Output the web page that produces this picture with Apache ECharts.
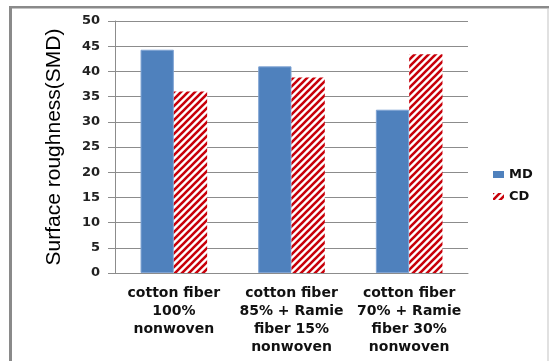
<!DOCTYPE html>
<html>
<head>
<meta charset="utf-8">
<style>
  html, body { margin: 0; padding: 0; background: #fff; }
  #chart { width: 549px; height: 361px; }
</style>
<script src="https://cdn.jsdelivr.net/npm/echarts@6/dist/echarts.min.js"></script>
</head>
<body>
<div id="chart"></div>
<script>
// Fabric samples and measured surface roughness (SMD) in two directions
const categories = [
  'cotton fiber\n100%\nnonwoven',
  'cotton fiber\n85% + Ramie\nfiber 15%\nnonwoven',
  'cotton fiber\n70% + Ramie\nfiber 30%\nnonwoven'
];
const mdValues = [44.3, 41.0, 32.4];
const cdValues = [36.0, 38.8, 43.4];
const yTicks = { min: 0, max: 50, interval: 5 };

// Diagonal red hatch used for the CD series
function hatchPattern() {
  const p = 7;
  const c = document.createElement('canvas');
  c.width = p; c.height = p;
  const g = c.getContext('2d');
  g.fillStyle = '#ffffff';
  g.fillRect(0, 0, p, p);
  g.strokeStyle = '#c8000a';
  g.lineWidth = 2.6;
  g.beginPath();
  g.moveTo(-1, p + 1); g.lineTo(p + 1, -1);
  g.moveTo(-1, 1); g.lineTo(1, -1);
  g.moveTo(p - 1, p + 1); g.lineTo(p + 1, p - 1);
  g.stroke();
  return c;
}
const hatch = { image: hatchPattern(), repeat: 'repeat' };

const chart = echarts.init(document.getElementById('chart'), null, { renderer: 'canvas' });
chart.setOption({
  backgroundColor: '#ffffff',
  animation: false,
  graphic: [
    { type: 'rect', shape: { x: 9, y: 6, width: 3, height: 360 }, style: { fill: '#8a8a8a' } },
    { type: 'rect', shape: { x: 9, y: 6, width: 540, height: 2.5 }, style: { fill: '#8a8a8a' } },
    { type: 'rect', shape: { x: 547.5, y: 8, width: 1, height: 353 }, style: { fill: '#c4c4c4' } }
  ],
  grid: { left: 115, top: 21, right: 81, bottom: 88, containLabel: false },
  legend: {
    orient: 'vertical',
    left: 488,
    top: 163,
    itemWidth: 11,
    itemHeight: 7,
    itemGap: 9,
    itemStyle: { borderWidth: 0 },
    textStyle: { fontFamily: 'DejaVu Sans', fontWeight: 'bold', fontSize: 13, color: '#111' },
    data: [
      { name: 'MD', icon: 'rect' },
      { name: 'CD', icon: 'rect' }
    ]
  },
  xAxis: {
    type: 'category',
    data: categories,
    axisLine: { lineStyle: { color: '#8c8c8c', width: 1 } },
    axisTick: { show: false },
    axisLabel: {
      interval: 0,
      margin: 11,
      fontFamily: 'DejaVu Sans',
      fontWeight: 'bold',
      fontSize: 14,
      lineHeight: 18,
      color: '#111'
    }
  },
  yAxis: {
    type: 'value',
    min: yTicks.min,
    max: yTicks.max,
    interval: yTicks.interval,
    name: 'Surface roughness(SMD)',
    nameLocation: 'middle',
    nameGap: 50,
    nameTextStyle: { fontFamily: 'Liberation Sans', fontSize: 21, color: '#000' },
    axisLine: { show: true, lineStyle: { color: '#8c8c8c', width: 1 } },
    axisTick: { show: true, length: 7, lineStyle: { color: '#8c8c8c' } },
    splitLine: { lineStyle: { color: '#8c8c8c', width: 1 } },
    axisLabel: {
      margin: 15,
      fontFamily: 'DejaVu Sans',
      fontWeight: 'bold',
      fontSize: 13,
      color: '#222'
    }
  },
  series: [
    {
      name: 'MD',
      type: 'bar',
      data: mdValues,
      barWidth: '28.3%',
      barGap: '0%',
      itemStyle: { color: '#4f81bd', borderColor: '#7fa3d3', borderWidth: 1 }
    },
    {
      name: 'CD',
      type: 'bar',
      data: cdValues,
      barWidth: '28.3%',
      barGap: '0%',
      itemStyle: { color: hatch, borderWidth: 0 }
    }
  ]
});
</script>
</body>
</html>
